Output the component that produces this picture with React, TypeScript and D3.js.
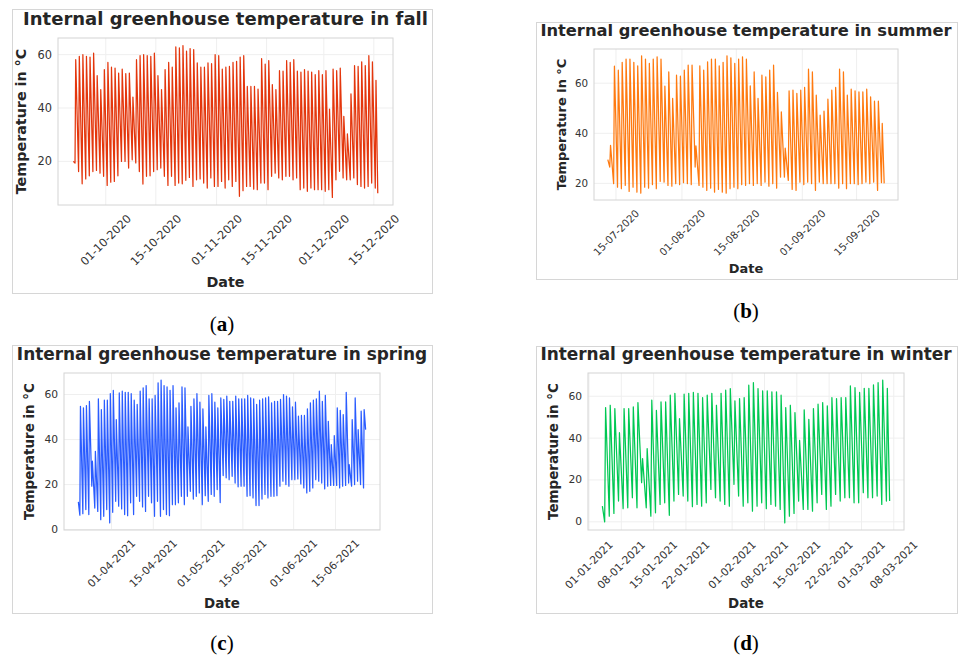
import React from 'react'
import * as d3 from 'd3'

// Daily peak / trough temperatures (°C).
// Each list runs from the first day of the record, one value per day.

const fallFirstDay = '22-09-2020'
const fallPeaks = [
  58.1, 59.4, 60, 59.4, 59.1, 60.6, 52.1, 46.9, 54.4, 57.1,
  55.3, 55, 53.1, 54.6, 52.9, 53.1, 44.1, 58.1, 59.6, 60,
  59.6, 59.4, 60.6, 52.1, 46.9, 54.4, 57.1, 55.3, 62.9, 62.5,
  63.4, 61.3, 62.3, 61.9, 56.9, 55.3, 55.3, 56.9, 56.6, 60,
  59.6, 54.6, 55.3, 55.6, 57.1, 57.5, 59.1, 59.6, 48.1, 48.1,
  48.1, 47.1, 58.5, 56.5, 57.8, 48.8, 46.9, 54, 53.8, 57.8,
  57.1, 58.1, 53.8, 53.5, 54.4, 53.8, 53.5, 52.5, 54, 52.5,
  54, 39.6, 54.6, 54, 55, 36.9, 30.3, 45.3, 55.9, 55.6,
  57.3, 55.9, 59.6, 57.3, 50.4,
]
const fallTroughs = [
  19.4, 16.2, 11.6, 13.4, 14.6, 16.2, 16.6, 15.6, 14.4, 11,
  12.2, 12.5, 14.6, 20, 20, 17.5, 20.6, 19.4, 16.2, 11.5,
  14.4, 14.6, 16.2, 16.9, 17.5, 14.4, 11, 14.4, 11, 11.9,
  11.6, 12.9, 14, 10.6, 13.1, 13.4, 11.9, 10, 13.8, 10.6,
  10.6, 12.5, 10, 13.1, 10.6, 12.5, 6.9, 9, 10.6, 10.6,
  9.6, 9.4, 11.9, 11.9, 9.4, 14.4, 15.6, 13.8, 13.1, 14.4,
  14.4, 13.1, 13.8, 9.4, 10, 8.8, 10, 9.4, 9.4, 9.4,
  8.8, 9.4, 6.5, 13.1, 16.3, 13.8, 13.1, 13.1, 13.8, 11.3,
  10.6, 10, 10.6, 11.9, 10,
]
const fallEnds = [20, 8.1]
const fallXTicks = ['01-10-2020', '15-10-2020', '01-11-2020', '15-11-2020', '01-12-2020', '15-12-2020']
const fallYTicks = [20, 40, 60]

const summerFirstDay = '13-07-2020'
const summerPeaks = [
  35.2, 66.8, 65.2, 68.3, 69.6, 69.6, 68.3, 66.9, 70.9, 69.6,
  67.9, 69.6, 70.5, 69.6, 58.8, 64.5, 53.9, 63.2, 62.8, 65.2,
  67.2, 67.2, 35, 66.9, 65.2, 68.5, 69.6, 69.6, 66.9, 68.3,
  70.9, 70.1, 67.9, 69.6, 70.5, 69.6, 58.9, 64.5, 53.9, 63.2,
  62.5, 65.2, 67.2, 56.3, 48.5, 34.1, 56.9, 57.2, 55.9, 57.2,
  58.3, 65.6, 64.5, 55.2, 47.2, 48.8, 53.6, 57.2, 58.3, 65.6,
  64.5, 55.2, 57.6, 56.9, 56.5, 56.5, 57.6, 54.5, 52.8, 52.8,
  43.9,
]
const summerTroughs = [
  26.5, 19.9, 18.5, 17.9, 19.2, 16.8, 18.5, 16.5, 16.1, 18.5,
  18.1, 19.5, 17.9, 20.8, 20.5, 19.2, 18.9, 19.9, 19.5, 20.3,
  19.9, 19.5, 26.5, 19.2, 18.5, 17.2, 18.1, 16.5, 17.6, 16.5,
  16.1, 17.9, 18.5, 17.9, 19.5, 19.2, 19.9, 19.2, 19.9, 19.2,
  20.5, 18.9, 19.9, 18.1, 22.5, 22.5, 21.2, 17.6, 17.2, 20.5,
  19.5, 20.5, 19.9, 17.2, 20.5, 19.9, 19.9, 19.9, 19.9, 18.1,
  19.9, 17.9, 19.9, 19.9, 19.5, 19.9, 20.5, 19.9, 20.5, 17.2,
  20.3,
]
const summerEnds = [29.5, 20]
const summerXTicks = ['15-07-2020', '01-08-2020', '15-08-2020', '01-09-2020', '15-09-2020']
const summerYTicks = [20, 40, 60]

const springFirstDay = '21-03-2021'
const springPeaks = [
  54.8, 54.1, 55.1, 57, 30.4, 34.8, 58.1, 53.3, 57.5, 57.5,
  60.4, 61.8, 48.9, 60.7, 61.5, 61, 61, 60.4, 57.5, 55.6,
  61.5, 63, 64, 58.1, 58.1, 59.6, 65.2, 66.4, 64, 63.4,
  61.9, 64, 54.1, 56.3, 63.4, 63, 45.6, 54.8, 58.1, 60.4,
  56.6, 53.6, 45.6, 59.6, 60.4, 56.6, 54.1, 58.5, 57.8, 59.3,
  57, 57, 59.3, 58.1, 58.1, 58.1, 59.6, 58.5, 58.1, 55.6,
  57.5, 58.1, 58.5, 59, 56.3, 57, 57, 57.8, 60, 59.3,
  58.5, 54.5, 56.6, 50.4, 50.7, 50.7, 53.6, 56.3, 57.5, 58.1,
  61.5, 57, 59.6, 48.1, 37.8, 41.8, 54.1, 53, 51.1, 61,
  28.9, 48.9, 58.5, 44.4, 52.6, 53.3,
]
const springTroughs = [
  6.4, 7.1, 8.9, 6.7, 19.3, 9.6, 8.1, 4.4, 5.9, 8.9,
  3, 7.7, 12.6, 10.4, 9.2, 6.7, 6.2, 11.9, 6.7, 14.8,
  12.6, 10.1, 8.1, 14.8, 11.9, 5.9, 12.6, 5.9, 8.9, 6.7,
  6.2, 11.1, 11.1, 11.9, 14.8, 11.1, 14.8, 17, 13.6, 14.8,
  16.3, 11.1, 15.1, 12.6, 15.6, 14.8, 17.8, 12, 24, 23,
  22.2, 23.7, 20.7, 19, 19.3, 19.3, 14.8, 15.1, 14.1, 10.7,
  10.7, 13.6, 15.6, 14.1, 14.8, 14.8, 15.1, 19.3, 21.5, 20,
  19.3, 22.2, 22.2, 22.5, 20.3, 18.5, 16.3, 17, 18.5, 22.2,
  21.5, 20.7, 18.1, 19.3, 19.6, 19.6, 19.6, 18.5, 19.3, 19.6,
  20.7, 19.3, 20, 21.5, 20, 18.5,
]
const springEnds = [12.3, 44.4]
const springXTicks = ['01-04-2021', '15-04-2021', '01-05-2021', '15-05-2021', '01-06-2021', '15-06-2021']
const springYTicks = [0, 20, 40, 60]

const winterFirstDay = '04-01-2021'
const winterPeaks = [
  54.6, 55.7, 54.1, 42.6, 54.1, 54.1, 54.9, 57, 30.2, 35,
  58.1, 53.3, 57.3, 57.3, 60.5, 61.4, 49.3, 61, 61.4, 61.8,
  61.4, 59.4, 60.5, 61.4, 55.7, 61.4, 62.9, 63.7, 57.8, 58.9,
  59.4, 65.3, 66.5, 63.7, 62.6, 62.6, 62.1, 62.1, 60.5, 54.6,
  55.7, 52.2, 38.9, 53.5, 49, 54.1, 56.2, 57, 55.4, 59.4,
  58.9, 59.4, 59.4, 64.9, 64.1, 61.8, 63.8, 63.8, 65.4, 66.5,
  67.7, 63.8,
]
const winterTroughs = [
  0, 2.7, 4, 9.9, 6.3, 6.7, 11.5, 6.7, 18.7, 6.7,
  2.7, 4.3, 8.3, 9.1, 3.1, 9.9, 13.1, 12.3, 9.9, 7.2,
  8.3, 7.5, 9.1, 15.5, 11.5, 9.9, 8.3, 7.5, 17.9, 12.3,
  7.5, 9.1, 5.1, 7.5, 9.1, 6.3, 8.3, 7.5, 5.9, -0.5,
  2.7, 4, 9.9, 5.9, 5.9, 5.1, 9.1, 13.1, 5.9, 7.5,
  13.1, 9.9, 11.5, 11.5, 9.1, 9.1, 13.9, 11.5, 11.5, 12.3,
  8.3, 9.9,
]
const winterEnds = [7.5, 10]
const winterXTicks = [
  '01-01-2021', '08-01-2021', '15-01-2021', '22-01-2021', '01-02-2021',
  '08-02-2021', '15-02-2021', '22-02-2021', '01-03-2021', '08-03-2021',
]
const winterYTicks = [0, 20, 40, 60]

const parseDay = d3.utcParse('%d-%m-%Y')
const DAY = 864e5

type Pt = { t: Date; v: number }

// trough in the early morning, peak around midday
function buildSeries(first: string, peaks: number[], troughs: number[], ends: number[]): Pt[] {
  const t0 = parseDay(first)!.getTime()
  const pts: Pt[] = [{ t: new Date(t0 - 0.1 * DAY), v: ends[0] }]
  peaks.forEach((p, i) => {
    pts.push({ t: new Date(t0 + (i + 0.4) * DAY), v: troughs[i] })
    pts.push({ t: new Date(t0 + (i + 0.6) * DAY), v: p })
  })
  pts.push({ t: new Date(t0 + (peaks.length + 0.1) * DAY), v: ends[1] })
  return pts
}

// matplotlib-style 5% margins
function padded(ext: [number, number]): [number, number] {
  const m = (ext[1] - ext[0]) * 0.05
  return [ext[0] - m, ext[1] + m]
}

const PANELS = [
  {
    key: 'a', season: 'fall', color: '#e4360c',
    data: buildSeries(fallFirstDay, fallPeaks, fallTroughs, fallEnds),
    xTicks: fallXTicks, yTicks: fallYTicks,
    frame: [12, 9, 432, 293], plot: [58, 38, 393, 205], k: 1,
    titleY: 24.5, yLabelX: 26, dateY: 286.5, tickOff: 35, caption: [222, 331],
  },
  {
    key: 'b', season: 'summer', color: '#ff7a10',
    data: buildSeries(summerFirstDay, summerPeaks, summerTroughs, summerEnds),
    xTicks: summerXTicks, yTicks: summerYTicks,
    frame: [536, 22, 957, 279], plot: [594, 49, 898, 200], k: 0.905,
    titleY: 36.3, yLabelX: 565.6, dateY: 273.3, tickOff: 32.5, caption: [746, 318],
  },
  {
    key: 'c', season: 'spring', color: '#2a5cff',
    data: buildSeries(springFirstDay, springPeaks, springTroughs, springEnds),
    xTicks: springXTicks, yTicks: springYTicks,
    frame: [12, 345, 432, 613], plot: [64, 373, 380, 530], k: 0.94,
    titleY: 360.4, yLabelX: 34, dateY: 607.7, tickOff: 33.5, caption: [222, 650],
  },
  {
    key: 'd', season: 'winter', color: '#00c853',
    data: buildSeries(winterFirstDay, winterPeaks, winterTroughs, winterEnds),
    xTicks: winterXTicks, yTicks: winterYTicks,
    frame: [536, 346, 957, 613], plot: [588, 373, 904, 530], k: 0.94,
    titleY: 360.4, yLabelX: 558.3, dateY: 607.7, tickOff: 35, caption: [746, 650],
  },
]

const TEXT = '#262626'
const FONT = 'DejaVu Sans, sans-serif'

function Panel({ p }: { p: (typeof PANELS)[number] }) {
  const [fx0, fy0, fx1, fy1] = p.frame
  const [px0, py0, px1, py1] = p.plot
  const tExt = d3.extent(p.data, (d) => d.t.getTime()) as [number, number]
  const vExt = d3.extent(p.data, (d) => d.v) as [number, number]
  const x = d3.scaleUtc().domain(padded(tExt).map((t) => new Date(t))).range([px0, px1])
  const y = d3.scaleLinear().domain(padded(vExt)).range([py1, py0])
  const line = d3.line<Pt>().x((d) => x(d.t)).y((d) => y(d.v))
  const cx = (px0 + px1) / 2
  const cy = (py0 + py1) / 2

  return (
    <g fontFamily={FONT} fill={TEXT}>
      <rect x={fx0 + 0.5} y={fy0 + 0.5} width={fx1 - fx0} height={fy1 - fy0} fill="#fff" stroke="#d6d6d6" />
      <text x={cx} y={p.titleY} textAnchor="middle" fontWeight="bold" fontSize={18 * p.k}>
        {`Internal greenhouse temperature in ${p.season}`}
      </text>

      {/* grid */}
      {p.yTicks.map((v) => (
        <line key={'gy' + v} x1={px0} x2={px1} y1={y(v)} y2={y(v)} stroke="#efefef" strokeWidth={1} />
      ))}
      {p.xTicks.map((s) => {
        const xv = x(parseDay(s)!)
        return <line key={'gx' + s} x1={xv} x2={xv} y1={py0} y2={py1} stroke="#efefef" strokeWidth={1} />
      })}

      <path d={line(p.data) || ''} fill="none" stroke={p.color} strokeWidth={1.25} strokeLinejoin="round" />

      <rect x={px0} y={py0} width={px1 - px0} height={py1 - py0} fill="none" stroke="#d4d4d4" strokeWidth={1} />

      {/* y ticks */}
      {p.yTicks.map((v) => (
        <text key={'ty' + v} x={px0 - 6} y={y(v)} textAnchor="end" dominantBaseline="central" fontSize={11.4 * p.k} fill="#333">
          {v}
        </text>
      ))}
      {/* x ticks, rotated 45° */}
      {p.xTicks.map((s) => (
        <text
          key={'tx' + s}
          transform={`translate(${x(parseDay(s)!)},${py1 + p.tickOff}) rotate(-45)`}
          textAnchor="middle"
          dominantBaseline="central"
          fontSize={11.4 * p.k}
          fill="#333"
        >
          {s}
        </text>
      ))}

      <text x={cx} y={p.dateY} textAnchor="middle" fontWeight="bold" fontSize={14.3 * p.k}>
        Date
      </text>
      <text
        transform={`translate(${p.yLabelX},${cy}) rotate(-90)`}
        textAnchor="middle"
        fontWeight="bold"
        fontSize={14.3 * p.k}
      >
        Temperature in °C
      </text>

      <text x={p.caption[0]} y={p.caption[1]} textAnchor="middle" fontFamily="Liberation Serif, serif" fontSize={21} fill="#000">
        (<tspan fontWeight="bold">{p.key}</tspan>)
      </text>
    </g>
  )
}

export default function App() {
  return (
    <div style={{ position: 'absolute', left: 0, top: 0, background: '#fff' }}>
      <svg width={959} height={661} style={{ display: 'block' }}>
        <rect width={959} height={661} fill="#fff" />
        {PANELS.map((p) => (
          <Panel key={p.key} p={p} />
        ))}
      </svg>
    </div>
  )
}
